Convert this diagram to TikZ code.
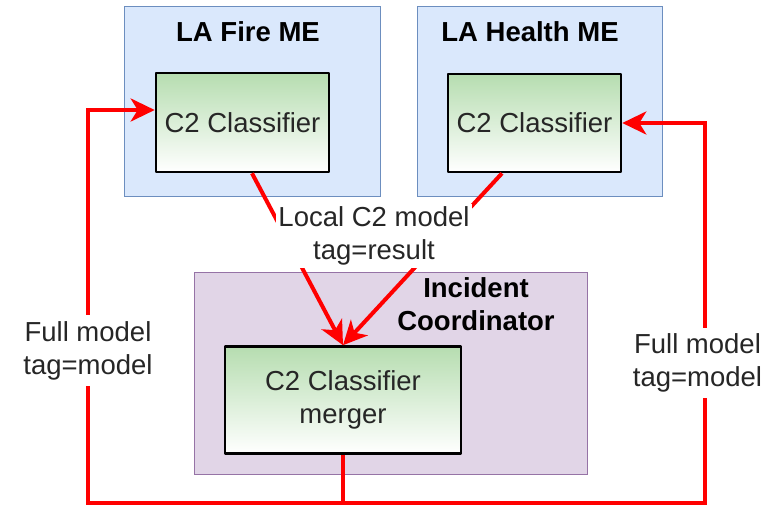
\documentclass[tikz,border=0pt]{standalone}
\usepackage{fontspec}
\setmainfont{Liberation Sans}
\usetikzlibrary{arrows.meta,calc}
\definecolor{bluefill}{RGB}{218,232,252}
\definecolor{bluedraw}{RGB}{108,142,191}
\definecolor{purpfill}{RGB}{225,213,231}
\definecolor{purpdraw}{RGB}{150,115,166}
\definecolor{gtop}{RGB}{182,221,176}
\definecolor{redline}{RGB}{255,0,0}
\tikzset{
  every node/.style={font=\fontsize{27.5}{33}\selectfont, text=black!85},
  container/.style={draw=bluedraw, fill=bluefill, line width=1pt, inner sep=0pt},
  purpbox/.style={draw=purpdraw, fill=purpfill, line width=1pt, inner sep=0pt},
  classbox/.style={draw=black, line width=2.6pt, line join=round, top color=gtop, bottom color=white, align=center, inner sep=0pt},
  title/.style={font=\fontsize{27.5}{33}\selectfont\bfseries, text=black, align=center, inner sep=0pt},
  conn/.style={draw=redline, line width=4pt},
  connarrow/.style={conn, -{Stealth[length=24pt,width=23pt,inset=7pt]}},
  elabel/.style={fill=white, align=center, inner xsep=2pt, inner ysep=6pt}
}
\begin{document}
\begin{tikzpicture}[x=1pt,y=-1pt]
\useasboundingbox (0,0) rectangle (780,509);
% containers
\node[container, minimum width=256pt, minimum height=190pt] (fireME) at (252,101) {};
\node[container, minimum width=245pt, minimum height=190pt] (healthME) at (539.5,101) {};
\node[purpbox, minimum width=393pt, minimum height=202pt] (incident) at (390.5,373) {};
% titles
\node[title, anchor=base] (fireT) at (248,41) {LA Fire ME};
\node[title, anchor=base] (healthT) at (530,41) {LA Health ME};
\node[title] (incT) at (476,304) {Incident\\Coordinator};
% classifier boxes
\node[classbox, minimum width=173pt, minimum height=99pt] (fireC) at (242.5,122.5) {C2 Classifier};
\node[classbox, minimum width=173pt, minimum height=98pt] (healthC) at (534.5,123) {C2 Classifier};
\node[classbox, minimum width=236pt, minimum height=107pt] (merger) at (343,400) {C2 Classifier\\merger};
% connector helper coordinates
\coordinate (bl) at (88,503);
\coordinate (br) at (705,503);
\coordinate (fireIn) at ([yshift=12.5pt]fireC.west);
\coordinate (fireOut) at ([xshift=9.5pt]fireC.south);
\coordinate (healthOut) at ([xshift=-32.5pt]healthC.south);
% connectors
\draw[connarrow] (fireOut) -- (merger.north);
\draw[connarrow] (healthOut) -- (merger.north);
\draw[connarrow] (merger.south) |- (bl) |- (fireIn);
\draw[connarrow] (merger.south) |- (br) |- (healthC.east);
% edge labels
\node[elabel, inner ysep=2.5pt] (lblLocal) at (374,236) {Local C2 model\\tag=result};
\node[elabel] (lblLeft) at (88,350.5) {Full model\\tag=model};
\node[elabel] (lblRight) at (697.5,363) {Full model\\tag=model};
\end{tikzpicture}
\end{document}
